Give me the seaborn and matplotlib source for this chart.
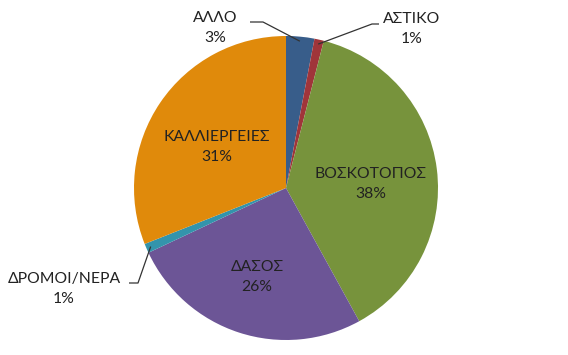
import numpy as np
import matplotlib
matplotlib.use("Agg")
import matplotlib.pyplot as plt
import seaborn as sns

sns.set_theme(style="white")
plt.rcParams['font.family'] = ['Lato', 'DejaVu Sans']

categories = ["ΑΛΛΟ", "ΑΣΤΙΚΟ", "ΒΟΣΚΟΤΟΠΟΣ", "ΔΑΣΟΣ", "ΔΡΟΜΟΙ/ΝΕΡΑ", "ΚΑΛΛΙΕΡΓΕΙΕΣ"]
values = [3, 1, 38, 26, 1, 31]
colors = ["#385D8A", "#A0353A", "#77933C", "#6C5596", "#3394AC", "#E08A0B"]

W, H = 568, 355
cx, cy, R = 286, 188, 152
fig = plt.figure(figsize=(W / 100, H / 100), dpi=100)
ax = fig.add_axes([(cx - R) / W, (H - cy - R) / H, 2 * R / W, 2 * R / H])

def px(x, y):
    return ((x - cx) / R, (cy - y) / R)

wedges, _ = ax.pie(values, colors=colors, startangle=90, counterclock=False,
                   radius=1, wedgeprops=dict(linewidth=0))
ax.set_xlim(-1, 1)
ax.set_ylim(-1, 1)
ax.set_aspect('equal')
ax.axis('off')

fs = 11.3
ls = 1.6
# inside labels
inside = {"ΒΟΣΚΟΤΟΠΟΣ": (371, 184), "ΔΑΣΟΣ": (257, 277), "ΚΑΛΛΙΕΡΓΕΙΕΣ": (217, 147)}
# outside labels with leader line (text center, line end, elbow)
outside = {"ΑΛΛΟ": ((215, 28), (250, 22), (263, 22)),
           "ΑΣΤΙΚΟ": ((412, 29), (379, 24), (372, 24)),
           "ΔΡΟΜΟΙ/ΝΕΡΑ": ((64, 289), (129, 283), (138, 283))}

for w, cat, v in zip(wedges, categories, values):
    label = f"{cat}\n{v}%"
    if cat in inside:
        x, y = px(*inside[cat])
        ax.text(x, y, label, ha='center', va='center', fontsize=fs,
                color='#222222', linespacing=ls)
    else:
        (tx, ty), end, elbow = outside[cat]
        x, y = px(tx, ty)
        ax.text(x, y, label, ha='center', va='center', fontsize=fs,
                color='#222222', linespacing=ls)
        ang = np.deg2rad((w.theta1 + w.theta2) / 2)
        wx, wy = 0.97 * np.cos(ang), 0.97 * np.sin(ang)
        ex, ey = px(*end)
        bx, by = px(*elbow)
        ax.plot([ex, bx, wx], [ey, by, wy], color='#333333', lw=0.9,
                clip_on=False, solid_capstyle='butt')

fig.savefig("out.png", dpi=100, facecolor='white')
